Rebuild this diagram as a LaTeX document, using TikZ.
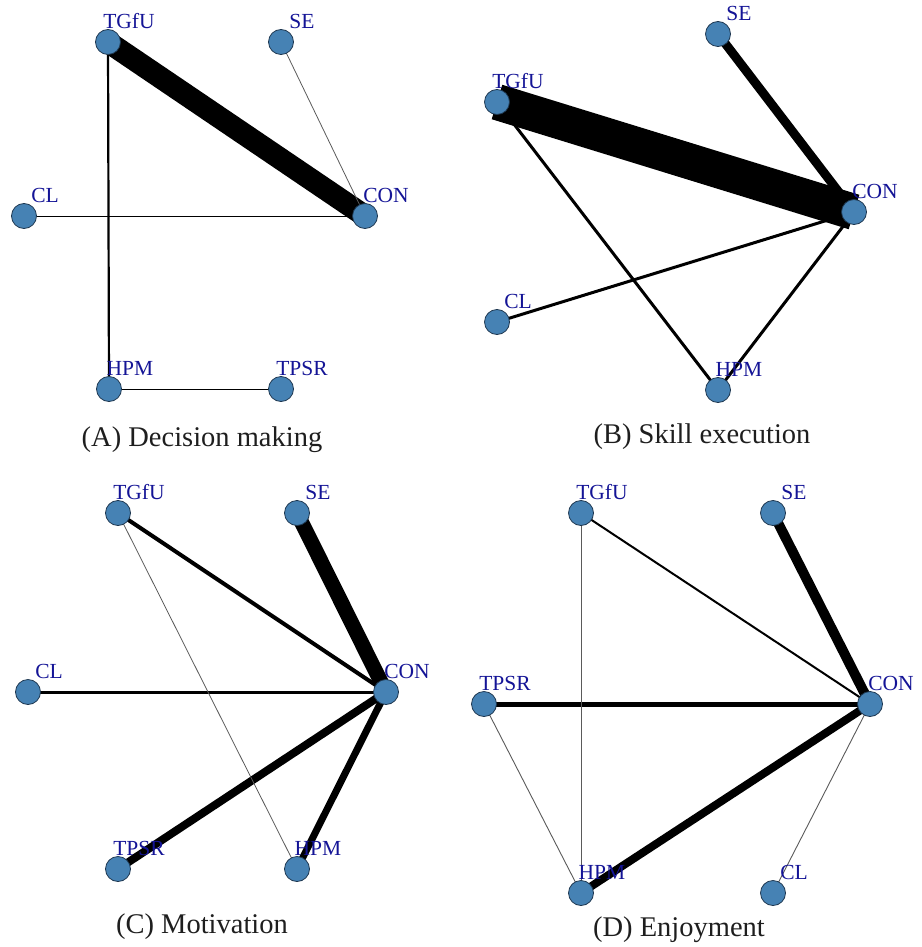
\documentclass[tikz,border=0pt]{standalone}
\usepackage{fontspec}
\setmainfont{Liberation Serif}
\usetikzlibrary{backgrounds,calc}
\definecolor{nodefill}{RGB}{70,130,180}
\definecolor{nodeline}{RGB}{30,55,80}
\definecolor{lblblue}{RGB}{20,20,150}
\definecolor{capgray}{RGB}{30,30,30}
\definecolor{thingray}{RGB}{90,90,90}
\tikzset{
  vtx/.style={circle, minimum size=25pt, inner sep=0pt, fill=nodefill, draw=nodeline, line width=0.8pt},
  vlbl/.style={text=lblblue, font=\fontsize{21.5}{24}\selectfont, inner sep=0pt, anchor=center},
  captext/.style={text=capgray, font=\fontsize{28.5}{32}\selectfont, inner sep=0pt, anchor=center},
  edg/.style={draw=black, line width=#1pt},
  thinedg/.style={draw=thingray, line width=#1pt},
}
\newcommand{\vtxat}[3]{%
  \node[vtx] (#1) at (#2) {};
  \node[vlbl] (#1l) at ($(#2)+(21,-21)$) {#3};}
\begin{document}
\begin{tikzpicture}[x=1pt,y=-1pt]
\useasboundingbox (0,0) rectangle (921,947);
% ---------- Panel A ----------
\vtxat{aT}{108,42}{TGfU}
\vtxat{aS}{281,42}{SE}
\vtxat{aCL}{24,216}{CL}
\vtxat{aC}{365,216}{CON}
\vtxat{aH}{109,389}{HPM}
\vtxat{aP}{281,389}{TPSR}
\node[captext] (capA) at (202,440) {(A) Decision making};
\begin{scope}[on background layer]
\draw[edg=22] (aT.center) -- (aC.center);
\draw[thinedg=0.8] (aS.center) -- (aC.center);
\draw[edg=2.2] (aT.center) -- (aH.center);
\draw[edg=1] (aCL.center) -- (aC.center);
\draw[edg=1] (aH.center) -- (aP.center);
\end{scope}
% ---------- Panel B ----------
\vtxat{bS}{718,34}{SE}
\vtxat{bT}{497,102}{TGfU}
\vtxat{bC}{854,212}{CON}
\vtxat{bCL}{497,322}{CL}
\vtxat{bH}{718,390}{HPM}
\node[captext] (capB) at (702,437) {(B) Skill execution};
\begin{scope}[on background layer]
\draw[edg=36] (bT.center) -- (bC.center);
\draw[edg=9] (bS.center) -- (bC.center);
\draw[edg=3] (bT.center) -- (bH.center);
\draw[edg=3] (bCL.center) -- (bC.center);
\draw[edg=3] (bH.center) -- (bC.center);
\end{scope}
% ---------- Panel C ----------
\vtxat{cT}{118,513}{TGfU}
\vtxat{cS}{297,513}{SE}
\vtxat{cCL}{28,692}{CL}
\vtxat{cC}{386,692}{CON}
\vtxat{cP}{118,869}{TPSR}
\vtxat{cH}{297,869}{HPM}
\node[captext] (capC) at (202,927) {(C) Motivation};
\begin{scope}[on background layer]
\draw[edg=4] (cT.center) -- (cC.center);
\draw[edg=15] (cS.center) -- (cC.center);
\draw[edg=3] (cCL.center) -- (cC.center);
\draw[edg=8] (cP.center) -- (cC.center);
\draw[edg=7] (cH.center) -- (cC.center);
\draw[thinedg=0.8] (cT.center) -- (cH.center);
\end{scope}
% ---------- Panel D ----------
\vtxat{dT}{581,513}{TGfU}
\vtxat{dS}{773,513}{SE}
\vtxat{dP}{484,704}{TPSR}
\vtxat{dC}{870,704}{CON}
\vtxat{dH}{581,893}{HPM}
\vtxat{dCL}{773,893}{CL}
\node[captext] (capD) at (679,930) {(D) Enjoyment};
\begin{scope}[on background layer]
\draw[edg=2] (dT.center) -- (dC.center);
\draw[edg=10] (dS.center) -- (dC.center);
\draw[edg=5] (dP.center) -- (dC.center);
\draw[edg=8] (dH.center) -- (dC.center);
\draw[thinedg=0.9] (dT.center) -- (dH.center);
\draw[thinedg=0.9] (dP.center) -- (dH.center);
\draw[thinedg=0.9] (dCL.center) -- (dC.center);
\end{scope}
\end{tikzpicture}
\end{document}
